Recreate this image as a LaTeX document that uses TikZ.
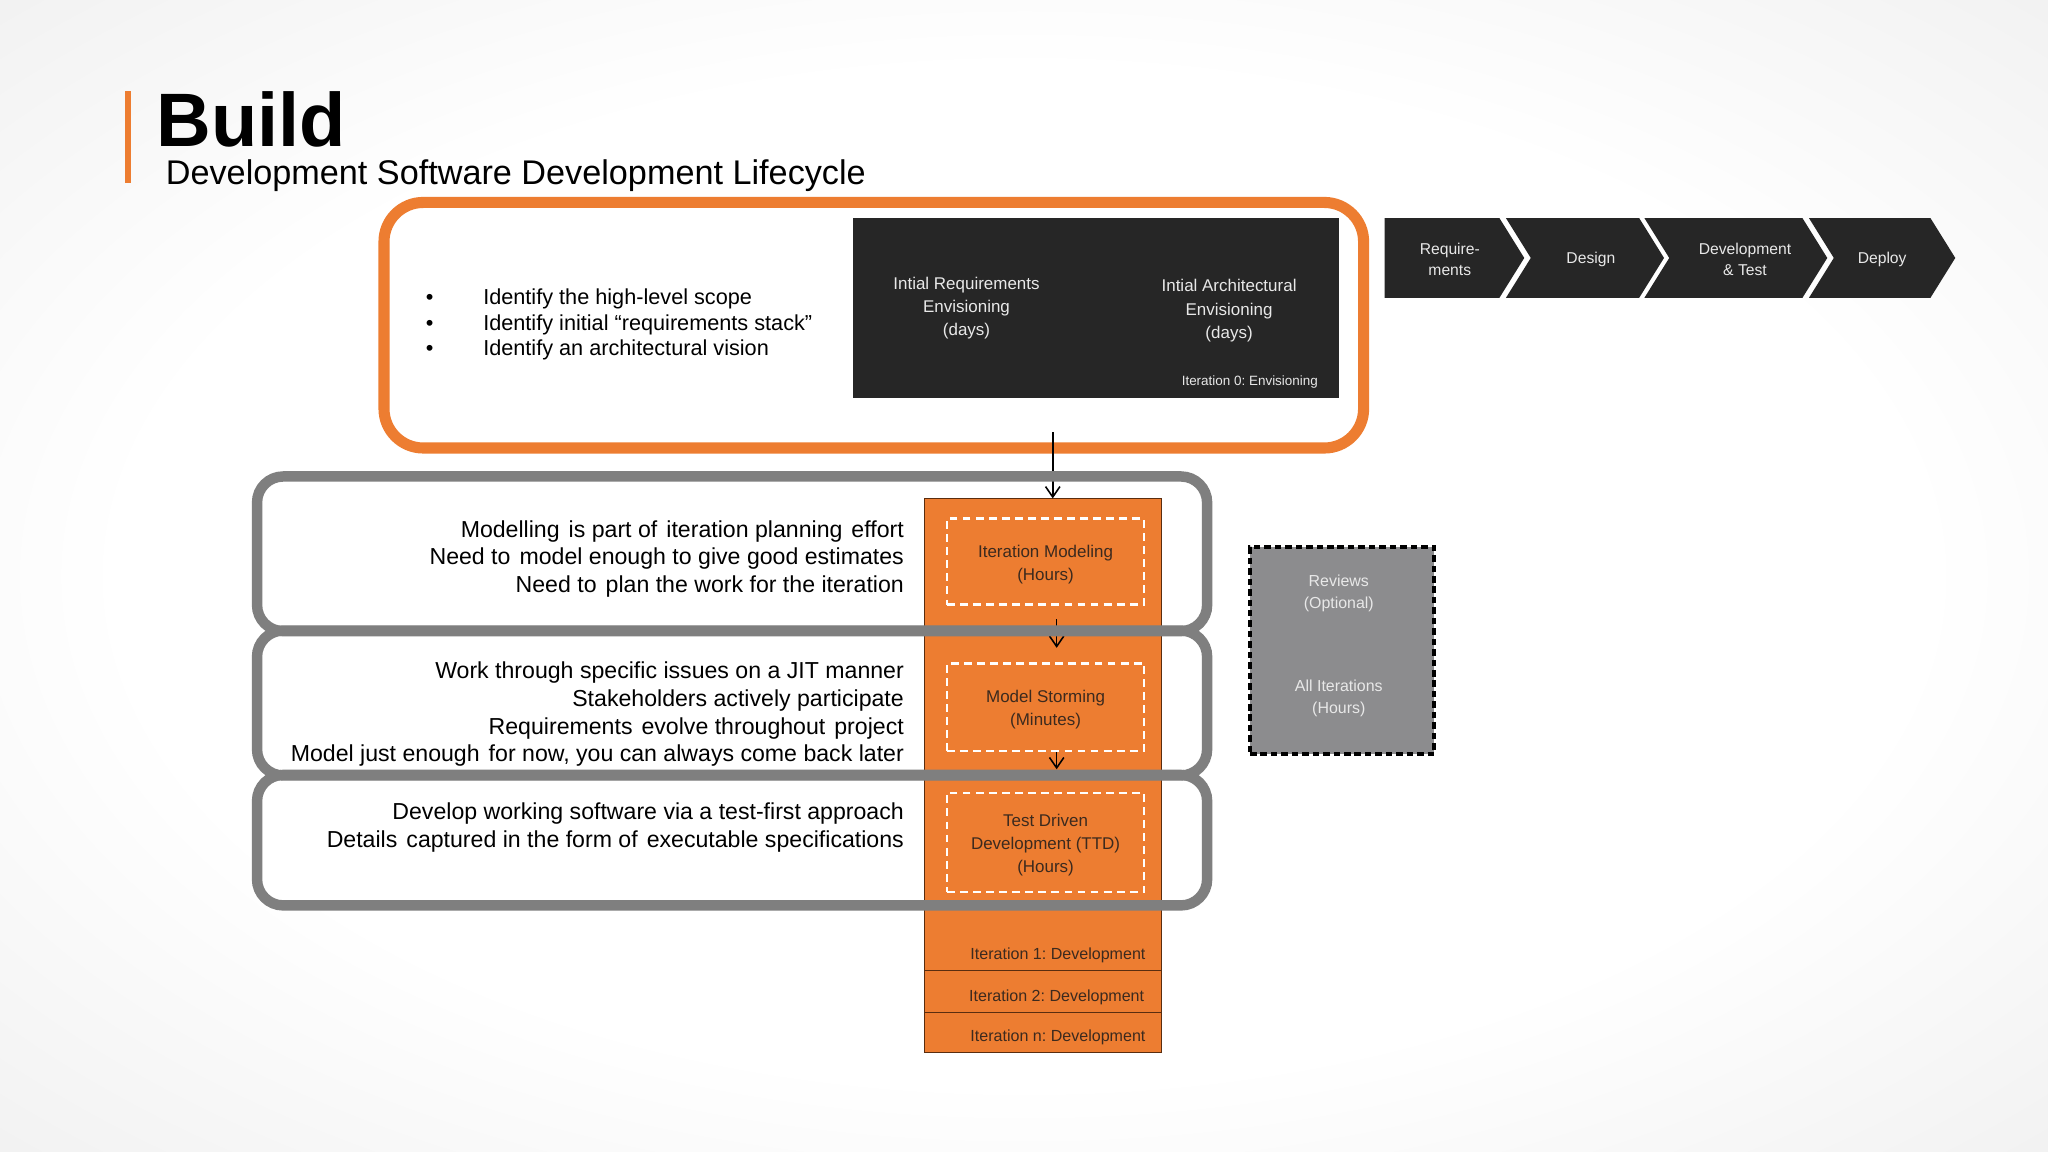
\documentclass[tikz,border=0pt]{standalone}
\usepackage{fontspec}
\setmainfont{Liberation Sans}
\usetikzlibrary{arrows.meta}
\definecolor{orng}{RGB}{237,125,49}
\definecolor{dark}{RGB}{38,38,38}
\definecolor{greyl}{RGB}{127,127,127}
\definecolor{revfill}{RGB}{140,140,142}
\definecolor{coltext}{RGB}{60,42,30}
\definecolor{coledge}{RGB}{90,45,15}
\definecolor{lighttext}{RGB}{232,232,232}
\pgfdeclareradialshading{vign}{\pgfpoint{0bp}{0bp}}{color(0bp)=(white); color(22bp)=(white); color(40bp)=(black!7); color(50bp)=(black!8)}
\newcommand\fs[2]{\fontsize{#1}{#2}\selectfont}
\newcommand\xs{\hspace{2pt}}
\newcommand\lowtext[1]{\raisebox{-2pt}[\height][\depth]{\parbox{150pt}{\centering #1}}}
\frenchspacing
\begin{document}
\begin{tikzpicture}[x=1pt,y=-1pt,
  txt/.style={inner sep=0pt, outer sep=0pt},
  lefttext/.style={txt, align=right, anchor=east, font={\fs{17.7}{21.2}}},
  boxlabel/.style={txt, align=center, text=lighttext, font={\fs{13}{17.8}}},
  chevtext/.style={txt, align=center, text=lighttext, font={\fs{12}{16}}},
  dbox/.style={draw=white, line width=2pt, dash pattern=on 6pt off 4pt, minimum width=151pt, inner sep=0pt, align=center, text=coltext, font={\fs{13}{17.5}}},
  itrow/.style={txt, anchor=east, text=coltext, font={\fs{12.3}{15}}},
  arr/.style={line width=1.2pt, -{Straight Barb[length=8pt,width=11pt]}},
  greybox/.style={draw=greyl, line width=8pt, rounded corners=20pt},
  greyfill/.style={fill=white, rounded corners=20pt, minimum width=727pt, inner sep=0pt}
]
\useasboundingbox (0,0) rectangle (1568,882);
\shade[shading=vign] (0,0) rectangle (1568,882);

% title
\fill[orng] (96,70) rectangle (100.5,140);
\node[txt, anchor=base west, font={\fontsize{58}{60}\selectfont\bfseries}] (title) at (120,112) {Build};
\node[txt, anchor=base west, font={\fs{26.2}{30}}] (sub) at (127,141) {Development Software Development Lifecycle};

% envisioning
\node[draw=orng, line width=8.5pt, rounded corners=30pt, minimum width=750pt, minimum height=188pt, inner sep=0pt] (env) at (669,249) {};
\node[fill=dark, minimum width=372pt, minimum height=138pt, inner sep=0pt] (bb) at (839,236) {};
\node[boxlabel] (req) at (740,236) {Intial Requirements\\Envisioning\\(days)};
\node[boxlabel] (arch) at (941,238) {Intial Architectural\\Envisioning\\(days)};
\node[txt, anchor=east, text=lighttext, font={\fs{10.3}{12}}] (it0) at (1009,292.5) {Iteration 0: Envisioning};
\node[txt, anchor=west, align=left, font={\fs{16.6}{19.5}}] (bul) at (326,248.6)
  {\makebox[44pt][l]{\textbullet}Identify the high-level scope\\
   \makebox[44pt][l]{\textbullet}Identify initial “requirements stack”\\
   \makebox[44pt][l]{\textbullet}Identify an architectural vision};

% chevrons
\fill[dark] (1060,167) -- (1148,167) -- (1167,197.5) -- (1148,228) -- (1060,228) -- cycle;
\fill[dark] (1153,167) -- (1255,167) -- (1274,197.5) -- (1255,228) -- (1153,228) -- (1172,197.5) -- cycle;
\fill[dark] (1259,167) -- (1380,167) -- (1399,197.5) -- (1380,228) -- (1259,228) -- (1278,197.5) -- cycle;
\fill[dark] (1385,167) -- (1478,167) -- (1497,197.5) -- (1478,228) -- (1385,228) -- (1404,197.5) -- cycle;
\node[chevtext] (c1) at (1110,198.5) {Require-\\ments};
\node[chevtext] (c2) at (1218,198.5) {Design};
\node[chevtext] (c3) at (1336,198.5) {Development\\\& Test};
\node[chevtext] (c4) at (1441,198.5) {Deploy};

% grey box fills
\node[greyfill, minimum height=118pt] (g1) at (560.5,424) {};
\node[greyfill, minimum height=110.5pt] (g2) at (560.5,538.25) {};
\node[greyfill, minimum height=99.5pt] (g3) at (560.5,643.25) {};

% orange column
\node[fill=orng, draw=coledge, line width=0.8pt, minimum width=181pt, minimum height=424pt, inner sep=0pt] (col) at (798.5,594) {};
\draw[coledge, line width=0.8pt] (708,743) -- (889,743);
\draw[coledge, line width=0.8pt] (708,775) -- (889,775);
\node[itrow] (it1) at (877,731.5) {Iteration 1: Development};
\node[itrow] (it2) at (876,763.5) {Iteration 2: Development};
\node[itrow] (itn) at (877,794.5) {Iteration n: Development};

% dashed boxes
\node[dbox, minimum height=66pt] (im) at (800.5,430) {\lowtext{Iteration Modeling\\(Hours)}};
\node[dbox, minimum height=67pt] (ms) at (800.5,541.5) {\lowtext{Model Storming\\(Minutes)}};
\node[dbox, minimum height=76pt] (tdd) at (800.5,645) {\lowtext{Test Driven\\Development (TTD)\\(Hours)}};

% left texts
\node[lefttext] (t1) at (692,428) {Modelling \xs is part of \xs iteration planning \xs effort\\Need to \xs model enough to give good estimates\\Need to \xs plan the work for the iteration};
\node[lefttext] (t2) at (692,547) {Work through specific issues on a JIT manner\\Stakeholders actively participate\\Requirements \xs evolve throughout \xs project\\Model just enough \xs for now, you can always come back later};
\node[lefttext] (t3) at (692,633.5) {Develop working software via a test-first approach\\Details \xs captured in the form of \xs executable specifications};

% arrows
\coordinate (a0) at (806,331);
\draw[arr] (a0) -- (a0 |- col.north);
\draw[arr, shorten <=10pt, shorten >=11pt] ([xshift=8.5pt]im.south) -- ([xshift=8.5pt]ms.north);
\draw[arr, shorten <=0pt, shorten >=17pt] ([xshift=8.5pt]ms.south) -- ([xshift=8.5pt]tdd.north);

% grey strokes
\draw[greybox] (g1.north west) rectangle (g1.south east);
\draw[greybox] (g2.north west) rectangle (g2.south east);
\draw[greybox] (g3.north west) rectangle (g3.south east);

% reviews
\node[fill=revfill, draw=black, line width=3pt, dash pattern=on 5pt off 3pt, minimum width=141pt, minimum height=158pt, inner sep=0pt] (rev) at (1027.5,498) {};
\node[boxlabel, font={\fs{12.2}{17}}] (rev1) at (1025,454.5) {Reviews\\(Optional)};
\node[boxlabel, font={\fs{12.2}{17}}] (rev2) at (1025,534.5) {All Iterations\\(Hours)};
\end{tikzpicture}
\end{document}
